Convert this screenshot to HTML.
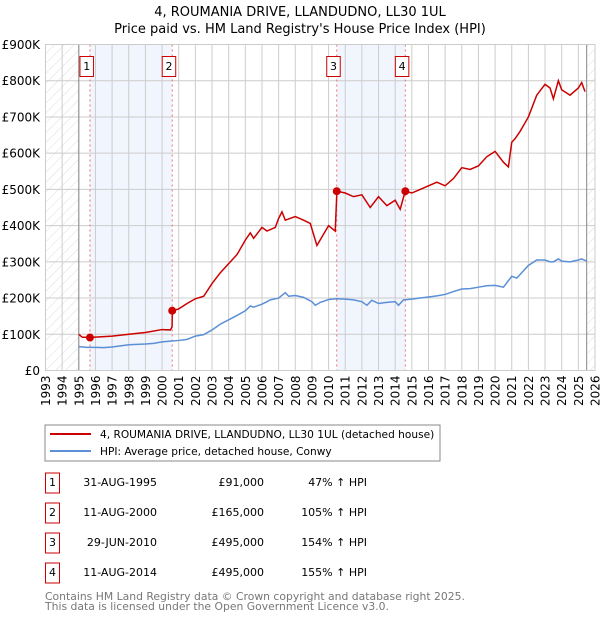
<!DOCTYPE html>
<html><head><meta charset="utf-8"><style>
body{margin:0;background:#fff;}
svg{display:block;font-family:"DejaVu Sans","Liberation Sans",sans-serif;}
</style></head><body>
<svg id="c" width="600" height="620">
<defs><pattern id="hatch" width="7" height="7" patternUnits="userSpaceOnUse" patternTransform="rotate(45)"><line x1="0" y1="0" x2="0" y2="7" stroke="#d4d4d4" stroke-width="0.8"/></pattern></defs>
<text x="300" y="16" text-anchor="middle" font-size="13">4, ROUMANIA DRIVE, LLANDUDNO, LL30 1UL</text>
<text x="300" y="33" text-anchor="middle" font-size="13">Price paid vs. HM Land Registry's House Price Index (HPI)</text>
<g id="plot"></g>
<rect x="45" y="425" width="395" height="36" fill="#fff" stroke="#888"/>
<line x1="50" y1="434" x2="91" y2="434" stroke="#cc0000" stroke-width="2"/>
<text x="100" y="438" font-size="10.6">4, ROUMANIA DRIVE, LLANDUDNO, LL30 1UL (detached house)</text>
<line x1="50" y1="451" x2="91" y2="451" stroke="#5b8fd6" stroke-width="2"/>
<text x="100" y="455" font-size="10.6">HPI: Average price, detached house, Conwy</text>
<g id="table" font-size="11"></g>
<text x="45" y="600" font-size="10.8" fill="#777">Contains HM Land Registry data © Crown copyright and database right 2025.</text>
<text x="45" y="610" font-size="10.8" fill="#777">This data is licensed under the Open Government Licence v3.0.</text>
</svg>
<script>
const yearTicks=[1993,1994,1995,1996,1997,1998,1999,2000,2001,2002,2003,2004,2005,2006,2007,2008,2009,2010,2011,2012,2013,2014,2015,2016,2017,2018,2019,2020,2021,2022,2023,2024,2025,2026];
const valueTicks=[0,100,200,300,400,500,600,700,800,900];
const valueLabels=["£0","£100K","£200K","£300K","£400K","£500K","£600K","£700K","£800K","£900K"];
const hpiYears=[1995,1995.5,1996,1996.5,1997,1997.5,1998,1998.5,1999,1999.5,2000,2000.5,2001,2001.5,2002,2002.5,2003,2003.5,2004,2004.5,2005,2005.3,2005.5,2006,2006.3,2006.5,2007,2007.4,2007.6,2008,2008.5,2009,2009.2,2009.5,2010,2010.5,2011,2011.5,2012,2012.3,2012.6,2013,2013.5,2014,2014.2,2014.5,2015,2015.5,2016,2016.5,2017,2017.5,2018,2018.5,2019,2019.5,2020,2020.5,2021,2021.3,2021.7,2022,2022.5,2023,2023.3,2023.5,2023.8,2024,2024.5,2025,2025.2,2025.5];
const hpiValues=[66,64,64,63,65,68,71,72,73,75,79,81,83,86,95,99,112,128,140,152,165,178,175,183,190,195,200,215,205,207,202,190,180,188,196,198,197,195,190,180,194,185,188,190,180,195,197,200,203,206,210,218,225,226,230,234,235,230,260,255,275,290,305,305,300,300,308,302,300,305,308,302];
const priceYears=[1995,1995.2,1995.67,1996,1997,1998,1999,2000,2000.5,2000.6,2000.62,2001,2001.5,2002,2002.5,2003,2003.5,2004,2004.5,2005,2005.3,2005.5,2006,2006.3,2006.8,2007,2007.2,2007.4,2008,2008.5,2008.9,2009.3,2010,2010.4,2010.5,2011,2011.5,2012,2012.5,2013,2013.5,2014,2014.3,2014.6,2015,2015.5,2016,2016.5,2017,2017.5,2018,2018.5,2019,2019.5,2020,2020.5,2020.8,2021,2021.2,2021.5,2022,2022.5,2023,2023.3,2023.5,2023.8,2024,2024.5,2025,2025.2,2025.4];
const priceValues=[100,92,91,92,95,100,105,113,112,120,165,170,185,198,205,240,270,295,320,360,380,365,395,385,395,420,438,415,425,415,406,345,400,385,495,490,480,485,450,480,455,470,445,495,490,500,510,520,510,530,560,555,565,590,605,575,562,630,640,660,700,760,790,780,750,800,775,760,780,795,770];
const saleYears=[1995.67,2000.61,2010.49,2014.61];
const saleValues=[91,165,495,495];
const saleLabels=["1","2","3","4"];
const saleDates=["31-AUG-1995","11-AUG-2000","29-JUN-2010","11-AUG-2014"];
const salePrices=["£91,000","£165,000","£495,000","£495,000"];
const saleHpi=["47% ↑ HPI","105% ↑ HPI","154% ↑ HPI","155% ↑ HPI"];

const X0=45.5,X1=595,Y0=370.5,Y1=44.5;
const xs=y=>X0+(y-1993)/(2026-1993)*(X1-X0);
const ys=v=>Y0-v/900*(Y0-Y1);
const NS="http://www.w3.org/2000/svg";
const plot=document.getElementById('plot');
function mk(tag,attrs,parent){const e=document.createElementNS(NS,tag);for(const k in attrs)e.setAttribute(k,attrs[k]);(parent||plot).appendChild(e);return e;}
let e;
e=mk('rect',{x:xs(saleYears[0]),y:Y1,width:xs(saleYears[1])-xs(saleYears[0]),height:Y0-Y1,fill:'#eef3fc',opacity:0.8});


e=mk('rect',{x:xs(saleYears[2]),y:Y1,width:xs(saleYears[3])-xs(saleYears[2]),height:Y0-Y1,fill:'#eef3fc',opacity:0.8});


e=mk('rect',{x:X0,y:Y1,width:xs(1995)-X0,height:Y0-Y1,fill:'url(#hatch)'});


e=mk('rect',{x:xs(2025.5),y:Y1,width:X1-xs(2025.5),height:Y0-Y1,fill:'url(#hatch)'});


yearTicks.forEach((yr,i)=>{
 e=mk('line',{x1:xs(yr),x2:xs(yr),y1:Y1,y2:Y0,stroke:'#ccc','stroke-width':1});
 
 
 e=mk('text',{x:0,y:0,transform:`translate(${xs(yr)+4.5},${Y0+5}) rotate(-90)`,'text-anchor':'end','font-size':12});
 e.textContent=yr;
 
 
});
valueTicks.forEach((v,i)=>{
 e=mk('line',{x1:X0,x2:X1,y1:ys(v),y2:ys(v),stroke:'#ccc','stroke-width':1});
 
 
 e=mk('text',{x:40,y:ys(v)+4.5,'text-anchor':'end','font-size':12});
 e.textContent=valueLabels[i];
 
 
});
e=mk('line',{x1:xs(1995),x2:xs(1995),y1:Y1,y2:Y0,stroke:'#888'});


e=mk('line',{x1:xs(2025.5),x2:xs(2025.5),y1:Y1,y2:Y0,stroke:'#888'});


saleYears.forEach((yr,i)=>{
 e=mk('line',{x1:xs(yr),x2:xs(yr),y1:Y1,y2:Y0,stroke:'#f07070','stroke-dasharray':'2,3'});
 
 
 e=mk('rect',{x:xs(yr)-10,y:56.5,width:13.5,height:20,fill:'#fff',stroke:'#cc0000'});
 
 
 e=mk('text',{x:xs(yr)-3.2,y:70,'text-anchor':'middle','font-size':11});
 e.textContent=saleLabels[i];
 
 
});
e=mk('polyline',{points:hpiYears.map((y,i)=>xs(y)+','+ys(hpiValues[i])).join(' '),fill:'none',stroke:'#5b8fd6','stroke-width':1.5});


e=mk('polyline',{points:priceYears.map((y,i)=>xs(y)+','+ys(priceValues[i])).join(' '),fill:'none',stroke:'#cc0000','stroke-width':1.5});


saleYears.forEach((yr,i)=>{
 e=mk('circle',{cx:xs(yr),cy:ys(saleValues[i]),r:4,fill:'#cc0000'});
 
 
});
e=mk('rect',{x:X0,y:Y1,width:X1-X0,height:Y0-Y1,fill:'none',stroke:'#ccc'});


const tb=document.getElementById('table');
saleLabels.forEach((l,i)=>{
 const cy=483+i*30;
 e=mk('rect',{x:45.5,y:cy-10,width:14,height:20,fill:'#fff',stroke:'#cc0000'},tb);
 
 
 e=mk('text',{x:52.5,y:cy+3,'text-anchor':'middle'},tb);e.textContent=l;
 
 
 e=mk('text',{x:157,y:cy+3,'text-anchor':'end'},tb);e.textContent=saleDates[i];
 
 
 e=mk('text',{x:264,y:cy+3,'text-anchor':'end'},tb);e.textContent=salePrices[i];
 
 
 e=mk('text',{x:367,y:cy+3,'text-anchor':'end'},tb);e.textContent=saleHpi[i];
 
 
});
</script>
</body></html>
